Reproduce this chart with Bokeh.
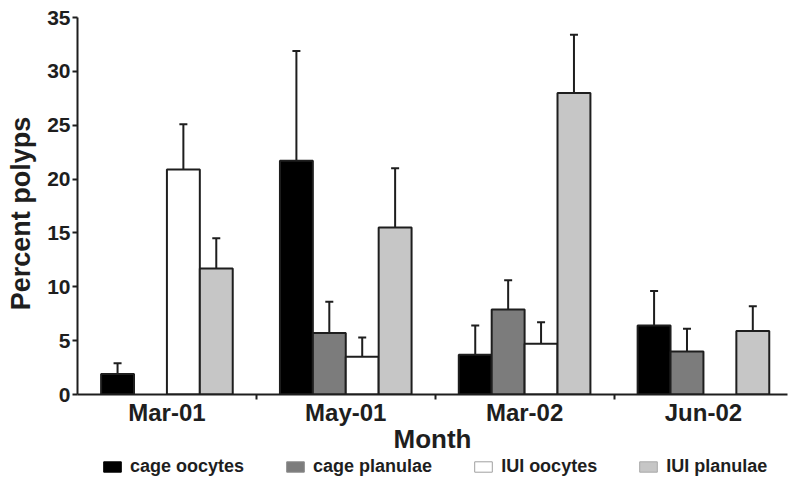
from bokeh.plotting import figure
from bokeh.layouts import column
from bokeh.models import (ColumnDataSource, Range1d, FixedTicker, Whisker, TeeHead,
                          Legend, LegendItem)
from bokeh.transform import dodge
from bokeh.embed import file_html
from bokeh.resources import INLINE

# Sampling months and percentage of polyps per treatment (mean and upper SE)
months = ["Mar-01", "May-01", "Mar-02", "Jun-02"]

cage_oocytes = [1.9, 21.7, 3.7, 6.4]
cage_oocytes_se = [1.0, 10.2, 2.7, 3.2]

cage_planulae = [0.0, 5.7, 7.9, 4.0]
cage_planulae_se = [0.0, 2.9, 2.7, 2.1]

iui_oocytes = [20.9, 3.5, 4.7, 0.0]
iui_oocytes_se = [4.2, 1.8, 2.0, 0.0]

iui_planulae = [11.7, 15.5, 28.0, 5.9]
iui_planulae_se = [2.8, 5.5, 5.4, 2.3]

series = [
    ("cage oocytes", cage_oocytes, cage_oocytes_se, "#000000"),
    ("cage planulae", cage_planulae, cage_planulae_se, "#7c7c7c"),
    ("IUI oocytes", iui_oocytes, iui_oocytes_se, "#ffffff"),
    ("IUI planulae", iui_planulae, iui_planulae_se, "#c6c6c6"),
]

FONT = "Liberation Sans"
INK = "#1e1e1e"
BAR_W = 0.184
centers = [i + 0.5 for i in range(len(months))]

# Main bar chart
p = figure(width=788, height=456, output_backend="svg", toolbar_location=None,
           x_range=Range1d(0, 3.97), y_range=Range1d(0, 35),
           min_border_left=77, min_border_right=1, min_border_top=17,
           min_border_bottom=62)
p.outline_line_color = None
p.xgrid.visible = False
p.ygrid.visible = False

sources = []
for k, (name, vals, errs, color) in enumerate(series):
    off = (k - 1.5) * BAR_W
    xs = [c for c, v in zip(centers, vals) if v > 0]
    vs = [v for v in vals if v > 0]
    src = ColumnDataSource(dict(x=xs, top=vs))
    sources.append(src)
    p.vbar(x=dodge("x", off), top="top", width=BAR_W, source=src,
           fill_color=color, line_color=INK, line_width=2)

    ex = [c for c, e in zip(centers, errs) if e > 0]
    lo = [v for v, e in zip(vals, errs) if e > 0]
    hi = [v + e for v, e in zip(vals, errs) if e > 0]
    esrc = ColumnDataSource(dict(x=ex, lower=lo, upper=hi))
    w = Whisker(base=dodge("x", off), lower="lower", upper="upper", source=esrc,
                dimension="height", line_color=INK, line_width=2,
                lower_head=None,
                upper_head=TeeHead(size=8, line_color=INK, line_width=2))
    p.add_layout(w)

# Axes
xa = p.xaxis[0]
xa.ticker = FixedTicker(ticks=centers, minor_ticks=[1, 2, 3])
xa.major_label_overrides = {c: m for c, m in zip(centers, months)}
xa.major_tick_out = 0
xa.major_tick_in = 0
xa.minor_tick_out = 5
xa.minor_tick_in = 0
xa.minor_tick_line_width = 2
xa.axis_line_width = 2
xa.axis_line_color = INK
xa.minor_tick_line_color = INK
xa.major_label_text_font = FONT
xa.major_label_text_font_style = "bold"
xa.major_label_text_font_size = "24px"
xa.major_label_text_color = INK
xa.major_label_standoff = -1
xa.axis_label = "Month"
xa.axis_label_text_font = FONT
xa.axis_label_text_font_style = "bold"
xa.axis_label_text_font_size = "26px"
xa.axis_label_text_color = INK
xa.axis_label_standoff = -5

ya = p.yaxis[0]
ya.ticker = FixedTicker(ticks=[0, 5, 10, 15, 20, 25, 30, 35])
ya.major_tick_out = 5
ya.major_tick_in = 0
ya.major_tick_line_width = 2
ya.major_tick_line_color = INK
ya.minor_tick_line_color = None
ya.axis_line_width = 2
ya.axis_line_color = INK
ya.major_label_text_font = FONT
ya.major_label_text_font_style = "bold"
ya.major_label_text_font_size = "21px"
ya.major_label_text_color = INK
ya.major_label_standoff = 2
ya.axis_label = "Percent polyps\u00a0\u00a0"
ya.axis_label_text_font = FONT
ya.axis_label_text_font_style = "bold"
ya.axis_label_text_font_size = "27px"
ya.axis_label_text_color = INK
ya.axis_label_standoff = 8

# Legend strip under the chart; its bars lie far outside the visible y range,
# so only the legend swatches show
lf = figure(width=788, height=27, output_backend="svg", toolbar_location=None,
            x_range=Range1d(0, 3.97), y_range=Range1d(1000, 1001),
            x_axis_location=None, y_axis_location=None, min_border=0)
lf.outline_line_color = None
lf.xgrid.visible = False
lf.ygrid.visible = False

legend_line = ["#000000", "#8a8a8a", "#a0a0a0", "#a8a8a8"]
items = []
for (name, vals, errs, color), lc, src in zip(series, legend_line, sources):
    r = lf.vbar(x="x", top="top", width=BAR_W, source=src,
                fill_color=color, line_color=lc, line_width=1)
    items.append(LegendItem(label=name, renderers=[r]))

legend = Legend(items=items, orientation="horizontal", location=(24, 6),
                spacing=40, glyph_width=22, glyph_height=13, label_standoff=7,
                padding=0, margin=0, border_line_color=None,
                background_fill_alpha=0,
                label_text_font=FONT, label_text_font_style="bold",
                label_text_font_size="18px", label_text_color=INK)
lf.add_layout(legend)

open("out.html", "w").write(file_html(column(p, lf, spacing=0), INLINE))
